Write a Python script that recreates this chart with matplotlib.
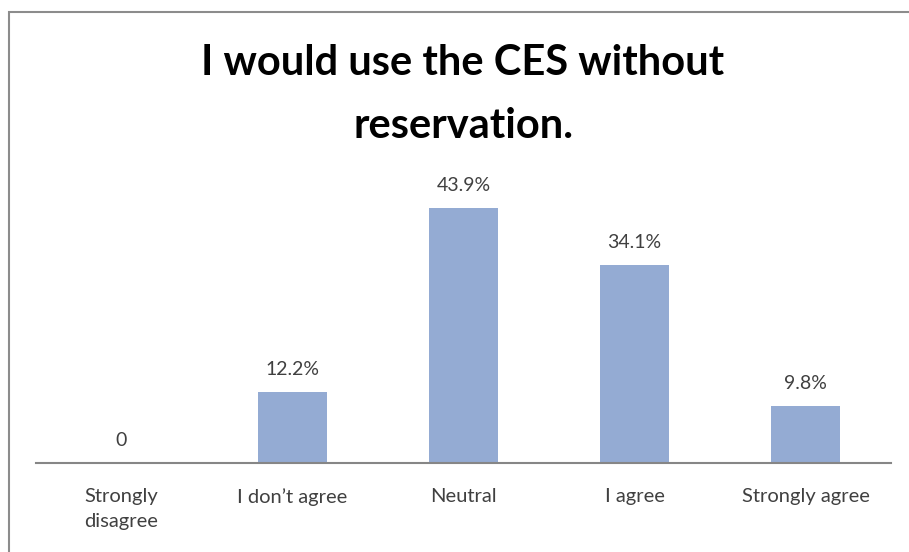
import matplotlib
matplotlib.use("Agg")
import matplotlib.pyplot as plt
from matplotlib.patches import Rectangle

categories = ["Strongly\ndisagree", "I don\u2019t agree", "Neutral", "I agree", "Strongly agree"]
values = [0, 12.2, 43.9, 34.1, 9.8]
value_labels = ["0", "12.2%", "43.9%", "34.1%", "9.8%"]
title = "I would use the CES without\nreservation."

W, H = 909, 552
fig = plt.figure(figsize=(W / 100, H / 100), dpi=100)
fig.patch.set_facecolor("white")

# outer chart border (only left/top visible in the crop)
fig.patches.append(Rectangle((9 / W, -0.1), 1.2, 1 - 12 / H + 0.1, transform=fig.transFigure,
                             fill=False, edgecolor="#8c8c8c", linewidth=1.5))

left, right = 36, 891
base = 463
ymax = 50
ppu = 5.81
top = base - ymax * ppu
ax = fig.add_axes([left / W, 1 - base / H, (right - left) / W, (base - top) / H])

x = list(range(len(categories)))
ax.bar(x, values, width=0.4, color="#94ABD3")
ax.set_xlim(-0.5, len(categories) - 0.5)
ax.set_ylim(0, ymax)

for xi, v, lab in zip(x, values, value_labels):
    ax.annotate(lab, (xi, v), xytext=(0, 12), textcoords="offset points",
                ha="center", va="baseline", fontsize=14, family="Lato", color="#404040")

for s in ["top", "right", "left"]:
    ax.spines[s].set_visible(False)
ax.spines["bottom"].set_color("#868686")
ax.spines["bottom"].set_linewidth(1.5)
ax.set_yticks([])
ax.set_xticks(x)
ax.set_xticklabels(categories, fontsize=14.5, family="Lato", color="#404040", linespacing=1.55)
ax.tick_params(axis="x", length=0, pad=18)

fig.text(463 / W, 1 - 44 / H, title, ha="center", va="top", fontsize=30, fontweight="bold",
         family="Lato", color="black", linespacing=1.8)

fig.savefig("out.png", dpi=100)
